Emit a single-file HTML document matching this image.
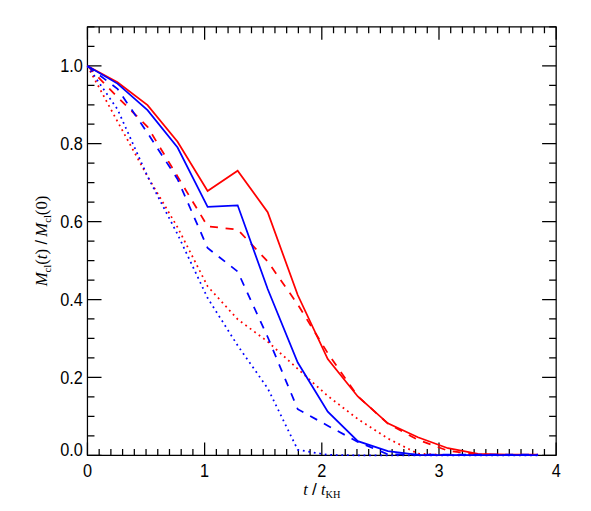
<!DOCTYPE html>
<html><head><meta charset="utf-8"><style>
html,body{margin:0;padding:0;background:#fff;}
svg{display:block}
text{font-family:"Liberation Sans",sans-serif;font-size:16.3px;fill:#000}
.s{font-family:"Liberation Serif",serif}
</style></head><body>
<svg width="591" height="511" viewBox="0 0 591 511">
<rect width="591" height="511" fill="#fff"/>
<g fill="none" stroke="#000" stroke-width="1.25" stroke-linejoin="round">
<rect x="87.45" y="26.85" width="468.72" height="428.47"/>
<path d="M87.45,455.32v-12.85M87.45,26.85v12.85M99.17,455.32v-6.43M99.17,26.85v6.43M110.89,455.32v-6.43M110.89,26.85v6.43M122.60,455.32v-6.43M122.60,26.85v6.43M134.32,455.32v-6.43M134.32,26.85v6.43M146.04,455.32v-6.43M146.04,26.85v6.43M157.76,455.32v-6.43M157.76,26.85v6.43M169.48,455.32v-6.43M169.48,26.85v6.43M181.19,455.32v-6.43M181.19,26.85v6.43M192.91,455.32v-6.43M192.91,26.85v6.43M204.63,455.32v-12.85M204.63,26.85v12.85M216.35,455.32v-6.43M216.35,26.85v6.43M228.07,455.32v-6.43M228.07,26.85v6.43M239.78,455.32v-6.43M239.78,26.85v6.43M251.50,455.32v-6.43M251.50,26.85v6.43M263.22,455.32v-6.43M263.22,26.85v6.43M274.94,455.32v-6.43M274.94,26.85v6.43M286.66,455.32v-6.43M286.66,26.85v6.43M298.37,455.32v-6.43M298.37,26.85v6.43M310.09,455.32v-6.43M310.09,26.85v6.43M321.81,455.32v-12.85M321.81,26.85v12.85M333.53,455.32v-6.43M333.53,26.85v6.43M345.25,455.32v-6.43M345.25,26.85v6.43M356.96,455.32v-6.43M356.96,26.85v6.43M368.68,455.32v-6.43M368.68,26.85v6.43M380.40,455.32v-6.43M380.40,26.85v6.43M392.12,455.32v-6.43M392.12,26.85v6.43M403.84,455.32v-6.43M403.84,26.85v6.43M415.55,455.32v-6.43M415.55,26.85v6.43M427.27,455.32v-6.43M427.27,26.85v6.43M438.99,455.32v-12.85M438.99,26.85v12.85M450.71,455.32v-6.43M450.71,26.85v6.43M462.43,455.32v-6.43M462.43,26.85v6.43M474.14,455.32v-6.43M474.14,26.85v6.43M485.86,455.32v-6.43M485.86,26.85v6.43M497.58,455.32v-6.43M497.58,26.85v6.43M509.30,455.32v-6.43M509.30,26.85v6.43M521.02,455.32v-6.43M521.02,26.85v6.43M532.73,455.32v-6.43M532.73,26.85v6.43M544.45,455.32v-6.43M544.45,26.85v6.43M556.17,455.32v-12.85M556.17,26.85v12.85M87.45,455.32h14.06M556.17,455.32h-14.06M87.45,435.84h7.03M556.17,435.84h-7.03M87.45,416.37h7.03M556.17,416.37h-7.03M87.45,396.89h7.03M556.17,396.89h-7.03M87.45,377.42h14.06M556.17,377.42h-14.06M87.45,357.94h7.03M556.17,357.94h-7.03M87.45,338.46h7.03M556.17,338.46h-7.03M87.45,318.99h7.03M556.17,318.99h-7.03M87.45,299.51h14.06M556.17,299.51h-14.06M87.45,280.04h7.03M556.17,280.04h-7.03M87.45,260.56h7.03M556.17,260.56h-7.03M87.45,241.09h7.03M556.17,241.09h-7.03M87.45,221.61h14.06M556.17,221.61h-14.06M87.45,202.13h7.03M556.17,202.13h-7.03M87.45,182.66h7.03M556.17,182.66h-7.03M87.45,163.18h7.03M556.17,163.18h-7.03M87.45,143.71h14.06M556.17,143.71h-14.06M87.45,124.23h7.03M556.17,124.23h-7.03M87.45,104.75h7.03M556.17,104.75h-7.03M87.45,85.28h7.03M556.17,85.28h-7.03M87.45,65.80h14.06M556.17,65.80h-14.06M87.45,46.33h7.03M556.17,46.33h-7.03M87.45,26.85h7.03M556.17,26.85h-7.03"/>
</g>
<g fill="none" stroke-width="1.75" stroke-linejoin="miter">
<path d="M87.45,66.0 L117.49,82.2 L147.53,105.1 L177.57,141.8 L207.61,191.0 L237.65,170.7 L267.69,212.2 L297.73,295.0 L327.77,359.0 L357.81,396.5 L387.85,423.3 L417.89,437.3 L447.93,448.2 L477.97,453.8 L508.01,454.5 L538.05,454.6" stroke="#f00"/>
<path d="M87.45,66.0 L117.49,97.0 L147.53,126.8 L177.57,176.5 L207.61,226.3 L237.65,229.6 L267.69,261.5 L297.73,304.4 L327.77,353.2 L357.81,396.3 L387.85,423.6 L417.89,439.8 L447.93,450.7 L477.97,454.6 L508.01,455.0 L538.05,455.0" stroke="#f00" stroke-dasharray="8 7.7"/>
<path d="M87.45,66.0 L117.49,121.5 L147.53,176.4 L177.57,227.3 L207.61,286.3 L237.65,319.3 L267.69,341.6 L297.73,368.9 L327.77,396.0 L357.81,419.0 L387.85,438.5 L417.89,453.7 L447.93,455.0 L477.97,455.0 L508.01,455.0 L538.05,455.0" stroke="#f00" stroke-dasharray="1.8 3.75"/>
<path d="M87.45,66.0 L117.49,83.6 L147.53,110.2 L177.57,147.5 L207.61,206.8 L237.65,205.3 L267.69,289.0 L297.73,362.5 L327.77,411.7 L357.81,441.2 L387.85,451.2 L417.89,454.8 L447.93,455.2 L477.97,455.2 L508.01,455.2 L538.05,455.2" stroke="#00f"/>
<path d="M87.45,66.0 L117.49,88.8 L147.53,133.0 L177.57,179.2 L207.61,248.0 L237.65,271.5 L267.69,337.0 L297.73,409.2 L327.77,425.7 L357.81,441.9 L387.85,454.3 L417.89,454.6 L447.93,454.6 L477.97,454.6 L508.01,454.6 L538.05,454.6" stroke="#00f" stroke-dasharray="8 7.7"/>
<path d="M87.45,66.0 L117.49,109.3 L147.53,176.4 L177.57,234.3 L207.61,298.0 L237.65,345.5 L267.69,388.3 L297.73,449.8 L327.77,454.9 L357.81,455.3 L387.85,455.3 L417.89,455.3 L447.93,455.3 L477.97,455.3 L508.01,455.3 L538.05,455.3" stroke="#00f" stroke-dasharray="1.8 3.75"/>
</g>
<text transform="translate(87.45,477.30) scale(1,1.157)" text-anchor="middle">0</text><text transform="translate(204.63,477.30) scale(1,1.157)" text-anchor="middle">1</text><text transform="translate(321.81,477.30) scale(1,1.157)" text-anchor="middle">2</text><text transform="translate(438.99,477.30) scale(1,1.157)" text-anchor="middle">3</text><text transform="translate(556.17,477.30) scale(1,1.157)" text-anchor="middle">4</text>
<text transform="translate(82.90,455.90) scale(1,1.157)" text-anchor="end">0.0</text><text transform="translate(82.90,383.72) scale(1,1.157)" text-anchor="end">0.2</text><text transform="translate(82.90,305.81) scale(1,1.157)" text-anchor="end">0.4</text><text transform="translate(82.90,227.91) scale(1,1.157)" text-anchor="end">0.6</text><text transform="translate(82.90,150.01) scale(1,1.157)" text-anchor="end">0.8</text><text transform="translate(82.90,72.10) scale(1,1.157)" text-anchor="end">1.0</text>
<text transform="translate(321.8,495)" text-anchor="middle" xml:space="preserve"><tspan class="s" font-style="italic">t</tspan><tspan font-size="15.5" xml:space="preserve"> </tspan><tspan font-size="17.3">/</tspan><tspan font-size="14.8" xml:space="preserve"> </tspan><tspan class="s" font-style="italic">t</tspan><tspan class="s" font-size="10.3" dy="3">KH</tspan></text>
<text transform="translate(46.6,241) rotate(-90) scale(1,0.96)" text-anchor="middle" class="s" xml:space="preserve" style="font-size:16.7px"><tspan font-style="italic">M</tspan><tspan font-size="10.5" dy="4.1">cl</tspan><tspan dy="-4.1">(</tspan><tspan font-style="italic">t</tspan>)<tspan style="font-family:'Liberation Sans',sans-serif" font-size="16.5" xml:space="preserve"> /</tspan><tspan font-size="13" xml:space="preserve"> </tspan><tspan font-style="italic">M</tspan><tspan font-size="10.5" dy="4.1">cl</tspan><tspan dy="-4.1">(0)</tspan></text>
</svg>
</body></html>
